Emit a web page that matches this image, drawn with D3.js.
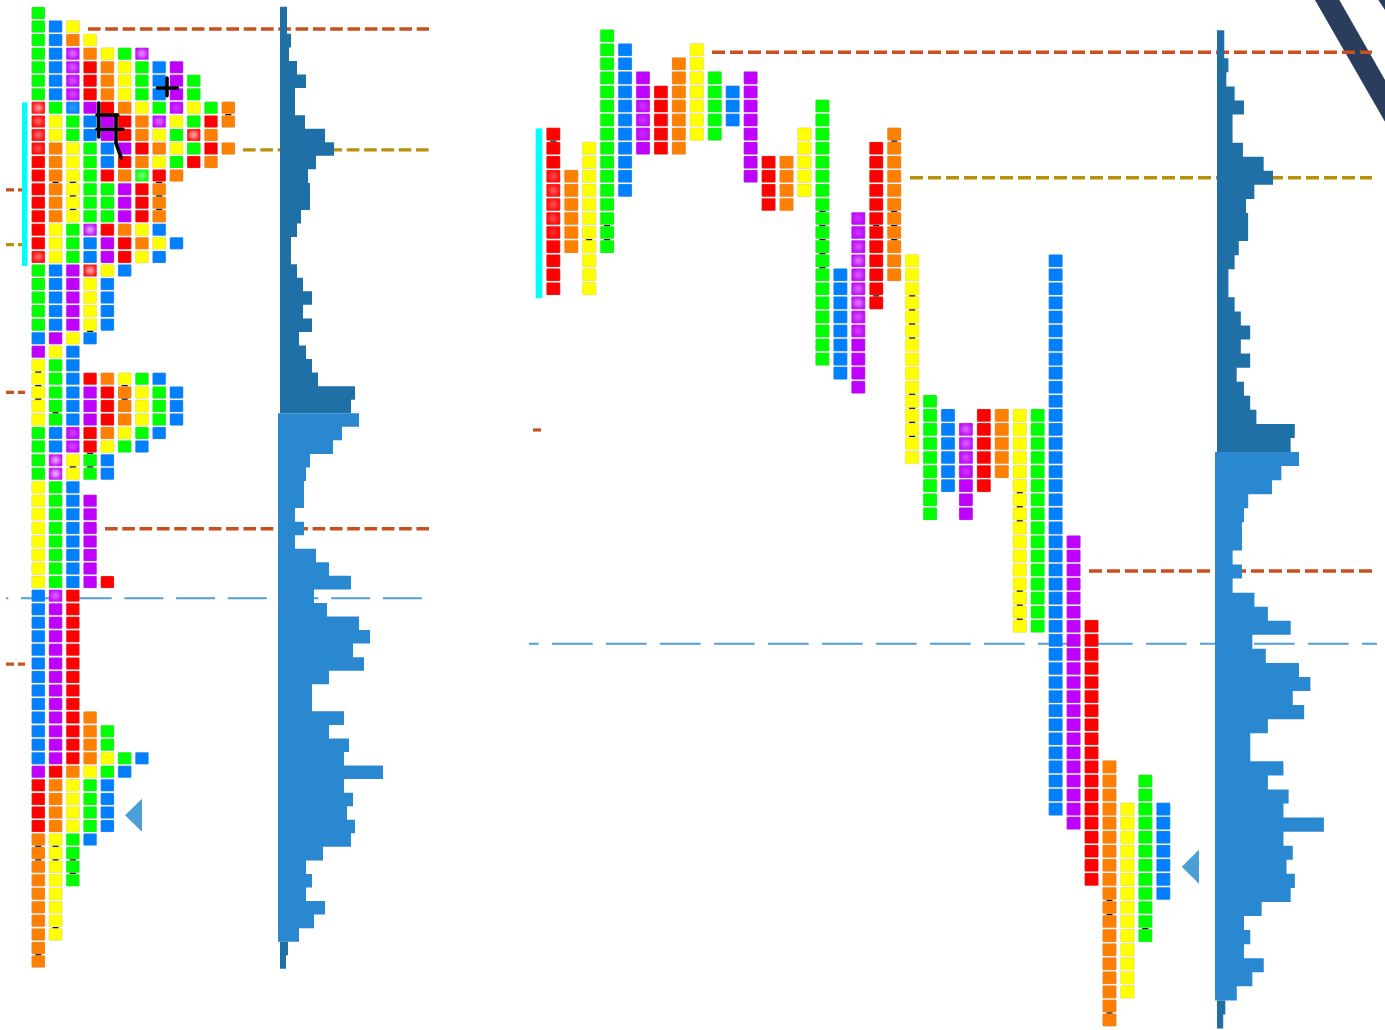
<!DOCTYPE html>
<html><head><meta charset="utf-8">
<style>html,body{margin:0;padding:0;background:#fff;overflow:hidden}svg{display:block;filter:blur(.45px)}</style>
<script src="https://cdn.jsdelivr.net/npm/d3@7/dist/d3.min.js"></script></head>
<body><svg id="c" width="1385" height="1030"></svg>
<script>
// Market-profile periods: each period's letter colour and its top / bottom price row
const periodColors = ["r","o","y","g","b","p","r","o","y","g","b","p","r","o","y","g","b","p","r","o","y","g","b","p","r","o","y","g","b","p","r","o","y","g","b"];
const periodTop    = [7,10,8,0,1,3,4,2,1,3,4,3,9,9,7,5,17,13,8,7,16,26,27,28,27,27,27,27,16,36,42,52,55,53,55];
const periodBottom = [18,15,18,15,11,8,8,8,7,7,6,10,12,12,11,23,24,25,19,17,30,34,32,34,32,31,42,42,55,56,60,70,68,64,61];
// Volume per price row (row 0 = top)
const volume = [7,7,11,9,17,26,15,15,25,45,54,36,28,30,30,21,17,11,11,17,23,32,23,32,19,26,32,38,75,71,
  81,64,55,32,28,26,26,17,26,17,38,51,73,36,49,81,92,75,86,51,34,34,66,51,71,66,105,66,75,69,77,73,45,28,34,28,47,36,21,8,6];
const valueAreaFirstRow = 30, valueAreaLastRow = 68;
const colorMap = {r:"#ff0000",o:"#ff8000",y:"#ffff00",g:"#00ff00",b:"#0080ff",p:"#bf00ff"};
// Reference levels: row position on each panel's price axis
const levels = [
  {name:"high", color:"#c8501e", left:1.18, right:1.18, leftFrom:88, rightFrom:712},
  {name:"poc",  color:"#b8900c", left:10.1, right:10.1, leftFrom:243, rightFrom:910},
  {name:"mid",  color:"#c8501e", left:38.06, right:38.07, leftFrom:105, rightFrom:1089}
];
const vwapRow = {left:43.2, right:43.25};
const markerRow = {left:59.2, right:59.1};
const cyanRows = {top:6.6, bottom:18.67};
// Dark separators between cells: [column, row boundary]
const sepsRight = [[20,18.5],[20,19.5],[20,20.5],[20,21.5],[20,25.5],[20,26.5],[20,27.5],[20,28.5],[15,12.5],[15,13.5],[15,14.5],[15,15.5],[15,16.5],
  [26,32.5],[26,33.5],[26,34.5],[26,39.5],[26,40.5],[26,41.5],[31,61.5],[31,62.5],[31,69.5],[19,7.5],[19,12.5],[19,13.5],[19,14.5],[18,18.5],[18,13.5],[33,63.5],[0,7.5],[2,14.5],[3,13.5],[3,14.5]];
const sepsLeft = [[0,26.5],[0,27.5],[0,28.5],[1,29.5],[5,27.5],[5,28.5],[3,32.5],[2,33.5],[3,33.5],[0,61.5],[0,62.5],[0,69.5],[1,61.5],[1,62.5],[1,67.5],[2,62.5],[2,63.5],[11,7.5],
  [1,12.5],[2,12.5],[2,13.5],[2,14.5],[7,12.5],[7,13.5],[7,14.5],[3,23.5]];
// Black cross strokes on the collapsed panel: [column1,row1,column2,row2]
const crossSegs = [[3.5,6.64,3.5,9.15],[4.5,7.53,4.5,9.6],[3.4,7.53,4.6,7.53],[3.4,8.58,4.9,8.58],[4.5,9.6,4.8,10.7],[6.9,5.53,8.05,5.53],[7.45,4.8,7.45,6.1]];
// Faded cells: [period, row, strength]
const fadedLeft = [[0,7,.8],[4,7,.25],[0,8,.5],[0,9,.55],[0,10,.35],[0,18,.55],[18,19,.85],[17,16,.8],[5,3,.55],[5,4,.45],[5,5,.4],[5,6,.35],[11,3,.7],[11,7,.25],[11,8,.5],[15,12,.6],[18,9,.85],[23,33,.85],[23,34,.9],[29,43,.5],[23,31,.3],[23,32,.35]];
const fadedRight = [[0,10,.35],[0,11,.45],[0,12,.4],[0,13,.35],[0,14,.2],[17,13,.25],[17,14,.25],[17,15,.4],[17,16,.55],[17,17,.45],[17,18,.5],[17,19,.6],[17,20,.4],[17,21,.3],[23,28,.5],[23,29,.5],[23,30,.35],[23,31,.25],[5,5,.25],[5,6,.25],[5,7,.2]];

const svg = d3.select("#c");
const panels = [
 {key:"left", x:d3.scaleLinear().domain([0,11]).range([38.3,228.3]), y:d3.scaleLinear().domain([0,70]).range([13,961.5]),
  v:d3.scaleLinear().domain([0,100]).range([0,100]), w:13.3, h:12, darkBase:280, lightBase:278, barShift:.5,
  lineEnd:429, dash:"12.6 4.7", vwapFrom:6, vwapEnd:422, vwapDash:"39 12.7", vwapOff:36.7, cyanX:[22,27.5],
  tri:[125,142], triH:16.5, seps:sepsLeft, faded:fadedLeft, collapsed:true},
 {key:"right", x:d3.scaleLinear().domain([0,34]).range([553.3,1163.3]), y:d3.scaleLinear().domain([0,70]).range([35.7,1020]),
  v:d3.scaleLinear().domain([0,100]).range([0,103.7]), w:13.8, h:12.6, darkBase:1217, lightBase:1215, barShift:1.5,
  lineEnd:1372, dash:"13 5", vwapFrom:529, vwapEnd:1377, vwapDash:"40.7 13.3", vwapOff:31, cyanX:[535.7,542.3],
  tri:[1181.7,1199], triH:17, seps:sepsRight, faded:fadedRight, collapsed:false}
];

// Navy corner band, drawn from fixed page anchors through scales
const cornerX = d3.scaleLinear().domain([0,1]).range([1300,1385]);
const cornerBands = [[[.176,0],[.463,0],[1,80],[1,121.7]],[[.922,0],[1,0],[1,10]]];
svg.selectAll("polygon.corner").data(cornerBands).join("polygon").attr("class","corner")
  .attr("points",d=>d.map(p=>[cornerX(p[0]),p[1]].join(",")).join(" ")).attr("fill","#2a3d5c");

panels.forEach(P=>{
  const g = svg.append("g").attr("class",P.key);
  const rows = d3.range(volume.length);
  const step = P.y(1)-P.y(0);
  // reference dashes (behind)
  const lev = g.append("g");
  levels.forEach(l=>{
    lev.append("line").attr("x1",P.key==="left"?l.leftFrom:l.rightFrom).attr("x2",P.lineEnd)
      .attr("y1",P.y(l[P.key])).attr("y2",P.y(l[P.key])).attr("stroke",l.color).attr("stroke-width",3.4).attr("stroke-dasharray",P.dash);
  });
  const vy = P.y(vwapRow[P.key]);
  lev.append("line").attr("x1",P.vwapFrom).attr("x2",P.vwapEnd).attr("y1",vy).attr("y2",vy)
    .attr("stroke","#4f9fd8").attr("stroke-width",2).attr("stroke-dasharray",P.vwapDash).attr("stroke-dashoffset",P.vwapOff);

  // stubs of earlier session levels at the panel edge
  const stubs = P.key==="left"
    ? [[13.05,"#c8501e",6,25],[17.1,"#b8900c",6,25],[28.0,"#c8501e",6,25],[48.05,"#c8501e",6,25]]
    : [[28.04,"#c8501e",533,541]];
  stubs.forEach(s=>{
    lev.append("line").attr("x1",s[2]).attr("x2",s[3]).attr("y1",P.y(s[0])).attr("y2",P.y(s[0]))
      .attr("stroke",s[1]).attr("stroke-width",3.2).attr("stroke-dasharray",P.key==="left"?"8 4 8":null);
  });

  // volume profile: one stepped shape per contiguous block
  const blocks = [
    {first:0, last:valueAreaFirstRow-1, base:P.darkBase, fill:"#2070a8"},
    {first:valueAreaFirstRow, last:valueAreaLastRow, base:P.lightBase, fill:"#2a88d0"},
    {first:valueAreaLastRow+1, last:volume.length-1, base:P.darkBase, fill:"#2070a8"}
  ];
  blocks.forEach(b=>{
    const rs = d3.range(b.first,b.last+2); // extra end point closes the last step
    const area = d3.area().curve(d3.curveStepBefore)
      .y(r=>P.y(r)-step/2+P.barShift)
      .x0(b.base)
      .x1(r=>b.base+P.v(volume[Math.min(r,b.last)]));
    g.append("path").attr("d",area(rs)).attr("fill",b.fill);
  });

  // cells
  const cells=[];
  rows.forEach(r=>{
    let k=0;
    periodColors.forEach((c,i)=>{
      if(r>=periodTop[i] && r<=periodBottom[i]){ cells.push({p:i,r,c,col:P.collapsed?k:i}); k++; }
    });
  });
  const colOf = new Map(cells.map(d=>[d.p+"_"+d.r,d.col]));
  g.selectAll("rect.cell").data(cells).join("rect").attr("class","cell")
    .attr("x",d=>P.x(d.col)-P.w/2).attr("y",d=>P.y(d.r)-P.h/2).attr("width",P.w).attr("height",P.h).attr("rx",1)
    .attr("fill",d=>colorMap[d.c]).attr("stroke","#a8a8a8").attr("stroke-opacity",.45).attr("stroke-width",.6);

  // faded centres
  g.selectAll("rect.fade").data(P.faded.filter(f=>f[2]>0 && colOf.has(f[0]+"_"+f[1]))).join("rect").attr("class","fade")
    .attr("x",f=>P.x(colOf.get(f[0]+"_"+f[1]))-P.w*.3).attr("y",f=>P.y(f[1])-P.h*.3).attr("width",P.w*.6).attr("height",P.h*.6)
    .attr("fill","#fff").attr("opacity",f=>f[2]*.85).style("filter","blur(2px)");

  // separators
  g.selectAll("line.sep").data(P.seps).join("line").attr("class","sep")
    .attr("x1",d=>P.x(d[0])-3).attr("x2",d=>P.x(d[0])+3).attr("y1",d=>P.y(d[1])).attr("y2",d=>P.y(d[1]))
    .attr("stroke","#111").attr("stroke-width",1.2);

  if(P.collapsed){
    g.selectAll("line.cross").data(crossSegs).join("line").attr("class","cross")
      .attr("x1",d=>P.x(d[0])).attr("y1",d=>P.y(d[1])).attr("x2",d=>P.x(d[2])).attr("y2",d=>P.y(d[3]))
      .attr("stroke","#000").attr("stroke-width",3.6).attr("stroke-linecap","round");
  }

  // cyan initial-balance bar
  g.append("rect").attr("x",P.cyanX[0]).attr("width",P.cyanX[1]-P.cyanX[0])
    .attr("y",P.y(cyanRows.top)).attr("height",P.y(cyanRows.bottom)-P.y(cyanRows.top)).attr("fill","#00ffff");

  // close marker
  const ty=P.y(markerRow[P.key]);
  g.append("polygon").attr("points",[[P.tri[0],ty],[P.tri[1],ty-P.triH],[P.tri[1],ty+P.triH]].map(p=>p.join(",")).join(" ")).attr("fill","#4a9fd6");
});
</script></body></html>
